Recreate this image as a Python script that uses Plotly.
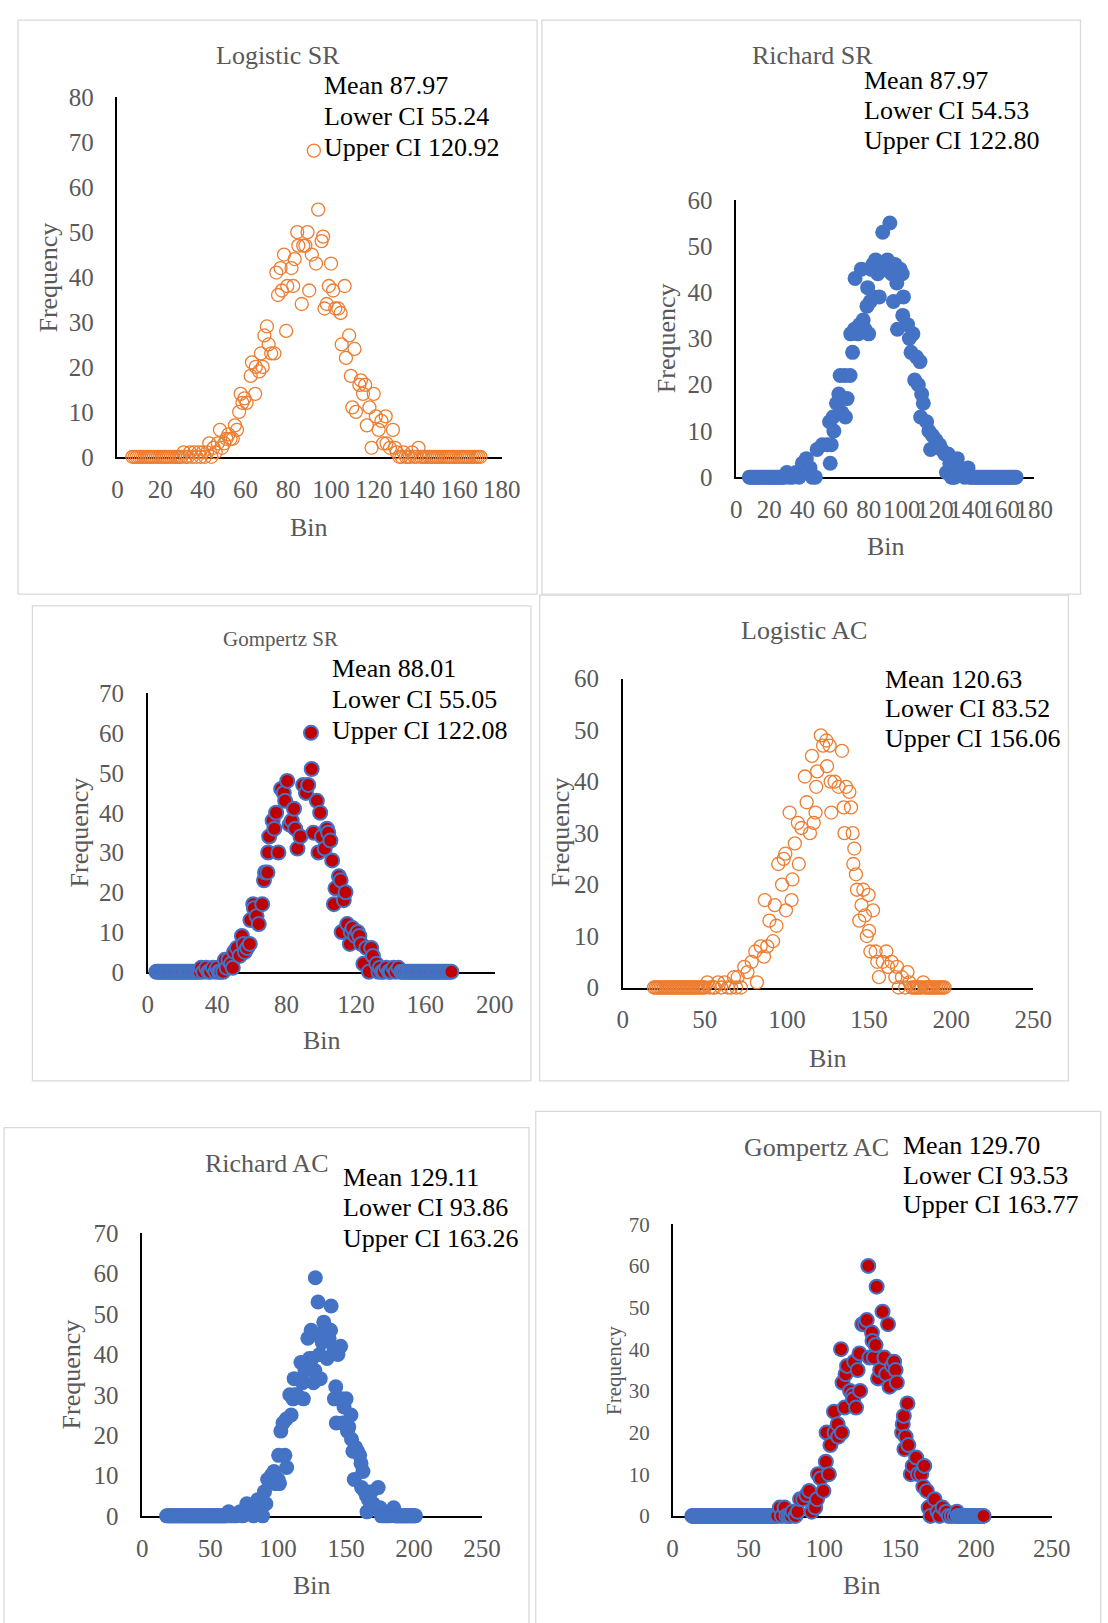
import plotly.graph_objects as go

W, H = 1108, 1623
FONT = "Liberation Serif"
GRAY = "#595959"
ORANGE = "#ED7D31"
BLUE = "#4472C4"
RED = "#C00000"
FRAME = "#D9D9D9"

# ---------------- data (Bin, Frequency) ----------------
# Logistic SR
ls_x = [7, 8, 9, 10, 11, 12, 13, 14, 15, 16, 17, 18, 19, 20, 21, 22, 23, 24, 25, 26, 27, 28, 29, 30,
        31, 32, 33, 34, 35, 36, 37, 38, 39, 40, 41, 42, 43, 44, 45, 46, 47, 48, 49, 50,
        51, 52, 53, 54, 55, 56, 57, 57.7, 58.5, 59.5, 60.5, 62.4, 63, 64.5, 64.8, 66.4, 67.2, 68, 68.8, 70,
        70.8, 72, 73.5, 74.4, 75.2, 76.4, 77, 78, 79, 79.5, 81.5, 82.3, 83, 84.2, 84.7, 86.3, 87, 88, 89, 89.8,
        91, 93, 94, 95.6, 96.3, 97, 98, 99, 100, 101, 102, 103.4, 104.5, 105, 106.4, 107, 108.5, 109.3, 110, 111,
        111.7, 113.3, 114, 115, 116, 116.8, 118, 119, 120, 121, 122.3, 123.6, 124.4, 125.6, 126, 127.6, 129, 130, 130.8, 132,
        133, 134, 135, 136, 137, 138, 139, 140, 141, 142,
        143, 144, 145, 146, 147, 148, 149, 150, 151, 152, 153, 154, 155, 156, 157, 158, 159, 160, 161, 162,
        163, 164, 165, 166, 167, 168, 169, 170]
ls_y = [0, 0, 0, 0, 0, 0, 0, 0, 0, 0, 0, 0, 0, 0, 0, 0, 0, 0, 0, 0, 0, 0, 0, 0,
        1, 0, 0, 1, 0, 1, 0, 1, 0, 1, 0, 1, 3, 0, 2, 1, 3, 6, 2, 3,
        4, 5, 4, 4, 7, 6, 10, 14, 12, 13, 12, 18, 21, 14, 20, 19, 23, 20, 27, 29,
        25, 23, 23, 41, 36, 42, 37, 45, 28, 38, 42, 38, 44, 50, 47, 34, 47, 47, 50, 37,
        45, 43, 55, 48, 49, 33, 34, 38, 43, 37, 33, 33, 32, 25, 38, 22, 27, 18, 11, 24,
        10, 16, 17, 14, 16, 7, 11, 2, 14, 9, 6, 8, 3, 9, 3, 2, 6, 2, 1, 0,
        0, 1, 0, 0, 0, 1, 0, 0, 2, 0,
        0, 0, 0, 0, 0, 0, 0, 0, 0, 0, 0, 0, 0, 0, 0, 0, 0, 0, 0, 0,
        0, 0, 0, 0, 0, 0, 0, 0]

# Richard SR
rs_x = [8, 9, 10, 11, 12, 13, 14, 15, 16, 17, 18, 19, 20, 21, 22, 23, 24, 25, 26, 27, 28, 29,
        30.6, 32, 34, 36, 38, 40, 42.4, 44.6, 46, 47.8, 48.9, 52, 55, 56.4, 56.8, 57.4, 58.5, 59, 60.6, 62,
        62.8, 63.4, 63.8, 65.6, 66, 67, 68.8, 69.2, 70.3, 71.4, 71.8, 73.5, 74.6, 75.6, 76.7, 77.8, 79, 79.4, 80, 81,
        81.4, 82.5, 83, 84.2, 85.5, 86.4, 86.8, 88.5, 89, 90, 91.3, 92.8, 93.9, 95, 96, 97, 97.4, 98, 99, 100.3,
        100.6, 101, 103.5, 104.6, 105.6, 106.7, 107.8, 108.9, 110, 111, 111.4, 112, 113, 115, 116.4, 117.4, 118.5, 120.6, 122.8, 124,
        126, 127, 128, 129, 130, 131, 132, 133.5, 134.6, 136.7, 138, 140, 141, 142,
        143, 144, 145, 146, 147, 148, 149, 150, 151, 152, 153, 154, 155, 156, 157, 158, 159, 160, 161, 162,
        163, 164, 165, 166, 167, 168, 169]
rs_y = [0, 0, 0, 0, 0, 0, 0, 0, 0, 0, 0, 0, 0, 0, 0, 0, 0, 0, 0, 0, 0, 0,
        1, 0, 0, 1, 0, 3, 4, 2, 0, 0, 6, 7, 7, 12, 3, 7, 13, 10, 16, 18,
        22, 17, 14, 22, 13, 17, 22, 31, 27, 32, 43, 31, 33, 45, 34, 32, 37, 41, 31, 38,
        45, 46, 39, 47, 44, 39, 46, 53, 45, 46, 47, 55, 44, 38, 46, 42, 32, 44, 45, 44,
        35, 39, 33, 30, 27, 31, 21, 26, 20, 25, 13, 18, 16, 12, 10, 6, 9, 8, 7, 6,
        5, 1, 5, 3, 0, 0, 0, 4, 2, 1, 0, 2, 0, 0,
        0, 0, 0, 0, 0, 0, 0, 0, 0, 0, 0, 0, 0, 0, 0, 0, 0, 0, 0, 0,
        0, 0, 0, 0, 0, 0, 0]

# Gompertz SR
gs_x = [5, 6, 7, 8, 9, 10, 11, 12, 13, 14, 15, 16, 17, 18, 19, 20, 21, 22, 23, 24, 25, 26, 27, 28, 29, 30,
        30.8, 32, 33.7, 35, 36, 37.6, 39, 40, 41, 42, 43.5, 44.5, 45.5, 46.5, 48, 49, 49.8, 51.4, 53, 54.3,
        55.3, 56, 57.3, 58.8, 59.2, 60.8, 61.2, 62.7, 64, 66, 67, 67.6, 69, 69.4, 70, 72, 73, 74, 75.3, 76.9,
        78.4, 79.2, 80.4, 81.8, 83, 84.3, 85, 86.3, 88, 89.6, 91.2, 92.5, 94.5, 95.5, 97.5, 98.4, 99.4, 100.4, 102, 103.3,
        104, 105.3, 106.3, 107.3, 108.2, 110.2, 111.2, 111.8, 113, 114, 115, 116.5, 117, 118, 119.6, 121, 122, 123, 124.3, 126,
        127.5, 128.8, 129.8, 131.8, 133, 133.7, 135, 136, 137.6, 139, 140, 141.6, 143, 144.5,
        146, 147, 148, 149, 150, 151, 152, 153, 154, 155, 156, 157, 158, 159, 160, 161, 162, 163, 164, 165,
        166, 167, 168, 169, 170, 171, 172, 173, 174, 175]
gs_y = [0, 0, 0, 0, 0, 0, 0, 0, 0, 0, 0, 0, 0, 0, 0, 0, 0, 0, 0, 0, 0, 0, 0, 0, 0, 0,
        1, 0, 1, 0, 0, 1, 0, 1, 0, 0, 0, 3, 1, 3, 2, 1, 5, 6, 4, 9,
        7, 5, 6, 7, 13, 17, 16, 14, 12, 17, 23, 25, 25, 30, 34, 38, 36, 40, 30, 46,
        45, 43, 48, 37, 38, 41, 36, 31, 34, 47, 45, 47, 51, 35, 43, 30, 40, 34, 31, 36,
        35, 33, 28, 17, 21, 24, 23, 10, 18, 20, 12, 7, 10, 11, 9, 10, 9, 7, 2, 6,
        0, 6, 4, 2, 0, 1, 0, 0, 1, 0, 0, 1, 0, 1,
        0, 0, 0, 0, 0, 0, 0, 0, 0, 0, 0, 0, 0, 0, 0, 0, 0, 0, 0, 0,
        0, 0, 0, 0, 0, 0, 0, 0, 0, 0]

# Logistic AC
la_x = [19, 20, 21, 22, 23, 24, 25, 26, 27, 28, 29, 30, 31, 32, 33, 34, 35, 36, 37, 38, 39, 40,
        41, 42, 43, 44, 45, 46, 47, 48, 49, 50,
        51.5, 53, 55, 56, 58, 60, 62, 64, 66, 67.7, 69, 70, 72, 74, 76, 78.5, 80.7, 81.7, 84, 86,
        86.5, 88, 89.3, 91.5, 92.6, 93.6, 94.7, 97, 98, 99, 99.4, 101.6, 102.8, 103.3, 104.8, 106.6, 107.2, 108.8, 110.9, 112,
        114, 115.2, 116.3, 117.4, 117.8, 118.4, 120.6, 122, 124, 124.4, 126, 126.6, 127, 129, 131.4, 133.5, 134.6, 135, 136, 138,
        139, 140, 140.4, 141, 142, 142.6, 144, 145.4, 146.5, 147.5, 148.6, 149.7, 150, 150.8, 152.4, 154, 155, 156, 158.3, 160.5,
        161.6, 163.7, 166, 167, 168, 170, 172, 173.4, 174.5, 176, 177, 178, 179, 180, 181, 182, 183,
        184, 185, 186, 187, 188, 189, 190, 191, 192, 193, 194, 195, 196]
la_y = [0, 0, 0, 0, 0, 0, 0, 0, 0, 0, 0, 0, 0, 0, 0, 0, 0, 0, 0, 0, 0, 0,
        0, 0, 0, 0, 0, 0, 0, 0, 0, 0,
        1, 0, 0, 0, 1, 0, 1, 0, 0, 2, 0, 2, 0, 4, 3, 5, 7, 1, 8, 6,
        17, 8, 13, 9, 16, 12, 24, 20, 25, 26, 15, 34, 17, 21, 28, 32, 24, 31, 41, 36,
        30, 45, 32, 34, 39, 42, 49, 47, 48, 43, 47, 40, 34, 40, 39, 46, 35, 30, 39, 38,
        35, 30, 24, 27, 22, 19, 13, 16, 19, 14, 10, 18, 11, 7, 15, 7, 5, 2, 5, 7,
        4, 5, 2, 4, 0, 2, 0, 3, 1, 0, 0, 0, 0, 0, 0, 0, 1,
        0, 0, 0, 0, 0, 0, 0, 0, 0, 0, 0, 0, 0]

# Richard AC
ra_x = [18, 19, 20, 21, 22, 23, 24, 25, 26, 27, 28, 29, 30, 31, 32, 33, 34, 35, 36, 37, 38, 39, 40,
        41, 42, 43, 44, 45, 46, 47, 48, 49, 50, 51, 52, 53, 54, 55, 56, 57, 58, 59, 60, 61, 62,
        63.6, 65, 67, 69, 72, 74, 77, 80, 82, 85, 87.3, 88.6, 90, 91, 92.3, 95, 97, 98, 100, 100.4,
        101, 102, 103.6, 105, 106, 106.3, 108.6, 109.6, 111, 111.8, 112.5, 114, 116.8, 118, 118.6, 119.8, 121.9, 123, 124.3, 125,
        126, 127, 127.4, 128.5, 129.4, 130.5, 131, 132.4, 133.6, 135, 136, 137.5, 138.6, 139, 141, 141.4, 142.4, 142.8, 144, 146,
        146.4, 147.4, 148.5, 150, 151, 152, 153.6, 154, 155, 156, 157, 158.5, 160, 161, 161.4, 162.4, 164, 165, 165.4, 166.5,
        168.6, 170, 171, 173.6, 175, 176, 178, 180, 182, 183, 185,
        186, 187, 188, 189, 190, 191, 192, 193, 194, 195, 196, 197, 198, 199, 200, 201]
ra_y = [0, 0, 0, 0, 0, 0, 0, 0, 0, 0, 0, 0, 0, 0, 0, 0, 0, 0, 0, 0, 0, 0, 0,
        0, 0, 0, 0, 0, 0, 0, 0, 0, 0, 0, 0, 0, 0, 0, 0, 0, 0, 0, 0, 0, 0,
        1, 0, 0, 0, 1, 0, 3, 2, 0, 4, 2, 0, 6, 3, 9, 10, 11, 8, 9, 15,
        8, 21, 23, 15, 24, 12, 30, 25, 29, 34, 30, 30, 38, 33, 29, 36, 44, 39, 46, 39,
        33, 36, 59, 45, 53, 40, 34, 43, 48, 46, 39, 44, 46, 52, 41, 29, 32, 23, 40, 42,
        29, 23, 27, 29, 21, 22, 25, 19, 16, 9, 17, 16, 15, 13, 7, 11, 6, 5, 1, 4,
        6, 3, 2, 7, 2, 0, 0, 0, 0, 1, 2,
        0, 0, 0, 0, 0, 0, 0, 0, 0, 0, 0, 0, 0, 0, 0, 0]

# Gompertz AC
ga_x = [13, 14, 15, 16, 17, 18, 19, 20, 21, 22, 23, 24, 25, 26, 27, 28, 29, 30, 31, 32, 33, 34, 35, 36, 37, 38, 39,
        40, 41, 42, 43, 44, 45, 46, 47, 48, 49, 50, 51, 52, 53, 54, 55, 56, 57, 58, 59, 60, 61, 62, 63, 64, 65, 66, 67, 68, 69,
        70.7, 72, 73.8, 75, 76.6, 78, 79, 81, 82.4, 84, 86, 88.2, 90, 91.7, 94, 95.2, 95.8, 97.6, 99.4, 101,
        101.5, 103, 104, 106.4, 106.8, 108.8, 109.2, 111, 111.6, 112, 113.4, 114, 115, 117, 118.6, 119, 119.7, 120.9, 122, 123.2,
        123.6, 125, 126.8, 128, 129, 129.8, 131.4, 131.8, 132.6, 133.8, 134.5, 135.4, 136.8, 138.4, 139.6, 140.8, 142, 143, 144.7, 146,
        147, 147.8, 151.3, 151.7, 152.4, 152.8, 153.6, 154.8, 155.4, 157, 158.3, 160.6, 161.7, 164, 165.3, 165.9, 167.6, 168.8, 170, 172.7,
        174.6, 176, 178, 180.4, 182, 184, 186, 187.4,
        188, 189, 190, 191, 192, 193, 194, 195, 196, 197, 198, 199, 200, 201, 202, 203, 204, 205]
ga_y = [0, 0, 0, 0, 0, 0, 0, 0, 0, 0,
        0, 0, 0, 0, 0, 0, 0, 0, 0, 0,
        0, 0, 0, 0, 0, 0, 0,
        0, 0, 0, 0, 0, 0, 0, 0, 0, 0,
        0, 0, 0, 0, 0, 0, 0, 0, 0, 0,
        0, 0, 0, 0, 0, 0, 0, 0, 0, 0,
        2, 0, 2, 0, 0, 0, 1, 0, 1, 4, 4, 5, 6, 1, 2, 4, 10, 9, 6, 13,
        20, 10, 17, 25, 20, 22, 19, 40, 20, 32, 26, 34, 36, 30, 29, 28, 37, 26, 35, 39,
        30, 46, 46, 47, 60, 38, 44, 42, 38, 41, 55, 33, 35, 49, 38, 34, 46, 31, 36, 37,
        35, 32, 20, 22, 24, 16, 19, 27, 17, 10, 12, 14, 10, 10, 7, 12, 6, 2, 0, 4,
        1, 0, 2, 1, 0, 0, 0, 1,
        0, 0, 0, 0, 0, 0, 0, 0, 0, 0, 0, 0, 0, 0, 0, 0, 0, 0]

titles = ["Logistic SR", "Richard SR", "Gompertz SR", "Logistic AC", "Richard AC", "Gompertz AC"]
stats = [["Mean 87.97", "Lower CI 55.24", "Upper CI 120.92"],
         ["Mean 87.97", "Lower CI 54.53", "Upper CI 122.80"],
         ["Mean 88.01", "Lower CI 55.05", "Upper CI 122.08"],
         ["Mean 120.63", "Lower CI 83.52", "Upper CI 156.06"],
         ["Mean 129.11", "Lower CI 93.86", "Upper CI 163.26"],
         ["Mean 129.70", "Lower CI 93.53", "Upper CI 163.77"]]
x_ticks = [[0, 20, 40, 60, 80, 100, 120, 140, 160, 180],
           [0, 20, 40, 60, 80, 100, 120, 140, 160, 180],
           [0, 40, 80, 120, 160, 200],
           [0, 50, 100, 150, 200, 250],
           [0, 50, 100, 150, 200, 250],
           [0, 50, 100, 150, 200, 250]]
y_ticks = [[0, 10, 20, 30, 40, 50, 60, 70, 80],
           [0, 10, 20, 30, 40, 50, 60],
           [0, 10, 20, 30, 40, 50, 60, 70],
           [0, 10, 20, 30, 40, 50, 60],
           [0, 10, 20, 30, 40, 50, 60, 70],
           [0, 10, 20, 30, 40, 50, 60, 70]]
series = [(ls_x, ls_y), (rs_x, rs_y), (gs_x, gs_y), (la_x, la_y), (ra_x, ra_y), (ga_x, ga_y)]

# ---------------- layout geometry (pixels) ----------------
boxes = [(114.0, 507.3, 451.3, 85.7),
         (747.0, 1052.0, 472.0, 190.0),
         (145.0, 500.0, 975.0, 692.0),
         (631.0, 1051.0, 991.0, 677.0),
         (139.3, 487.0, 1528.3, 1241.0),
         (682.0, 1070.0, 1528.3, 1231.7)]
frames = [(12.3, 7.3, 543.3, 591), (548.3, 7.3, 1099.3, 591), (27, 603, 537, 1086),
          (546, 592, 1087, 1086), (-2, 1133.5, 535, 1640), (542, 1117, 1120, 1640)]
title_pos = [(278, 43, 26), (825, 43, 26), (281, 637, 21), (816, 628, 26), (267, 1170, 26), (829, 1154, 26)]
stat_pos = [(323, [74, 105, 137]), (876, [69, 99, 130]), (331, [667, 698, 730]),
            (897, [678, 707, 738]), (343, [1184, 1215, 1246]), (916, [1152, 1182, 1212])]
freq_pos = [(43, 269, 26), (676, 331, 26), (75, 833, 26), (567, 833, 26), (68, 1384, 26), (622, 1380, 21)]
bin_pos = [(310, 523), (900, 543), (323, 1045), (841, 1063), (313, 1599), (876, 1599)]
ytick_size = [25, 25, 25, 25, 25, 21]

styles = [dict(symbol="circle-open", color=ORANGE, size=13, line=dict(color=ORANGE, width=1.3)),
          dict(symbol="circle", color=BLUE, size=15, line=dict(width=0)),
          dict(symbol="circle", color=RED, size=14, line=dict(color=BLUE, width=2)),
          dict(symbol="circle-open", color=ORANGE, size=13, line=dict(color=ORANGE, width=1.3)),
          dict(symbol="circle", color=BLUE, size=15, line=dict(width=0)),
          dict(symbol="circle", color=RED, size=14, line=dict(color=BLUE, width=2))]


def px(x):
    return x / W


def py(y):
    return 1 - y / H


fig = go.Figure()
layout = dict(width=W, height=H, margin=dict(l=0, r=0, t=0, b=0), autosize=False,
              paper_bgcolor="white", plot_bgcolor="white", showlegend=False)
shapes = []
annotations = []

for i in range(6):
    n = "" if i == 0 else str(i + 1)
    xl, xr, yb, yt = boxes[i]
    sx, sy = series[i]
    assert len(sx) == len(sy), (i, len(sx), len(sy))
    fig.add_trace(go.Scatter(x=sx, y=sy, mode="markers", marker=styles[i], cliponaxis=False,
                             xaxis="x" + n, yaxis="y" + n, hoverinfo="skip"))
    layout["xaxis" + n] = dict(domain=[px(xl), px(xr)], range=[0, x_ticks[i][-1]], anchor="y" + n,
                               tickvals=x_ticks[i], showline=True, linecolor="black", linewidth=1.5,
                               showgrid=False, zeroline=False, ticks="", tickangle=0,
                               ticklabelstandoff=9, layer="below traces",
                               tickfont=dict(family=FONT, size=25, color=GRAY))
    layout["yaxis" + n] = dict(domain=[py(yb), py(yt)], range=[0, y_ticks[i][-1]], anchor="x" + n,
                               tickvals=y_ticks[i], showline=True, linecolor="black", linewidth=1.5,
                               showgrid=False, zeroline=False, ticks="",
                               ticklabelstandoff=17, layer="below traces",
                               tickfont=dict(family=FONT, size=ytick_size[i], color=GRAY))
    fx0, fy0, fx1, fy1 = frames[i]
    shapes.append(dict(type="rect", xref="paper", yref="paper", x0=px(fx0), x1=px(fx1),
                       y0=py(fy1), y1=py(fy0), line=dict(color=FRAME, width=1.3), layer="below"))
    tx, ty, ts = title_pos[i]
    annotations.append(dict(text=titles[i], x=px(tx), y=py(ty), xref="paper", yref="paper",
                            showarrow=False, xanchor="center", yanchor="middle",
                            font=dict(family=FONT, size=ts, color=GRAY)))
    sx0, sys_ = stat_pos[i]
    for line, yy in zip(stats[i], sys_):
        annotations.append(dict(text=line, x=px(sx0), y=py(yy), xref="paper", yref="paper",
                                showarrow=False, xanchor="left", yanchor="middle",
                                font=dict(family=FONT, size=26, color="black")))
    fxp, fyp, fs = freq_pos[i]
    annotations.append(dict(text="Frequency", x=px(fxp), y=py(fyp), xref="paper", yref="paper",
                            showarrow=False, textangle=-90, xanchor="center", yanchor="middle",
                            font=dict(family=FONT, size=fs, color=GRAY)))
    bxp, byp = bin_pos[i]
    annotations.append(dict(text="Bin", x=px(bxp), y=py(byp), xref="paper", yref="paper",
                            showarrow=False, xanchor="center", yanchor="middle",
                            font=dict(family=FONT, size=26, color=GRAY)))

# legend symbols next to the statistics (Logistic SR and Gompertz SR)
legend_marks = [(315, 140, 6.5, "rgba(0,0,0,0)", ORANGE, 1.3), (312, 732, 7, RED, BLUE, 2)]
for cx, cy, r, fill, stroke, lw in legend_marks:
    shapes.append(dict(type="circle", xref="paper", yref="paper", xsizemode="pixel", ysizemode="pixel",
                       xanchor=px(cx), yanchor=py(cy), x0=-r, x1=r, y0=-r, y1=r,
                       fillcolor=fill, line=dict(color=stroke, width=lw)))

layout["shapes"] = shapes
layout["annotations"] = annotations
fig.update_layout(**layout)
fig.write_html("out.html")
